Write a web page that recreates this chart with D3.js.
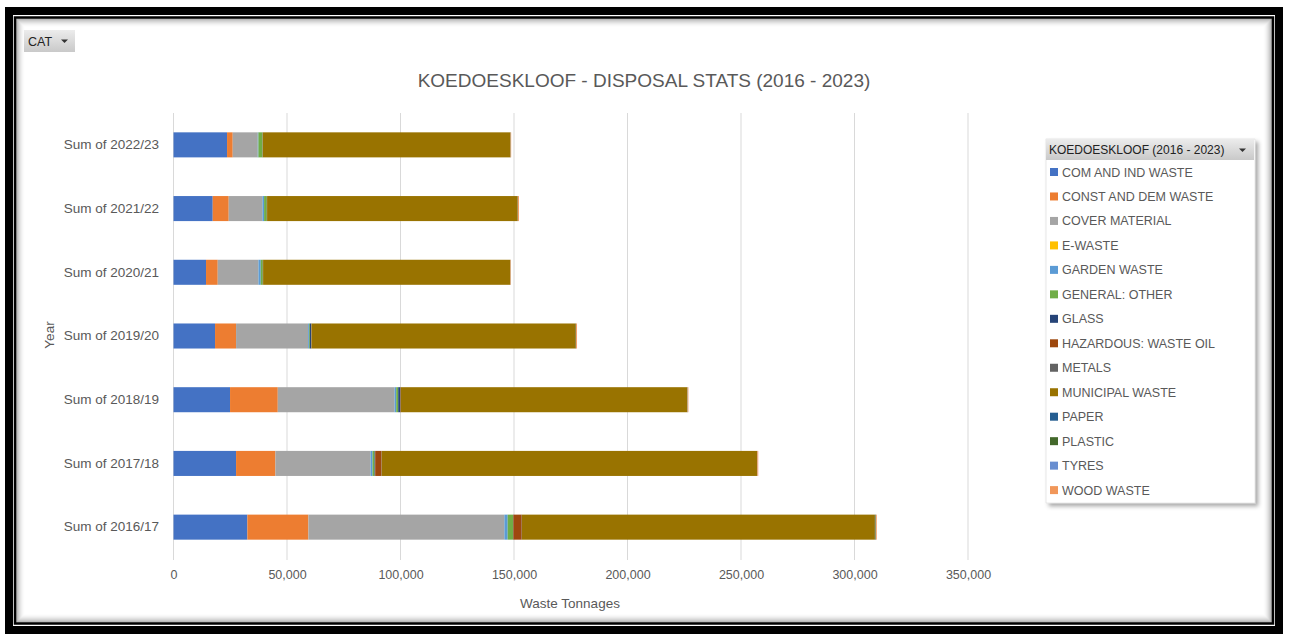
<!DOCTYPE html>
<html>
<head>
<meta charset="utf-8">
<script src="https://cdn.jsdelivr.net/npm/d3@7"></script>
<style>
  body { margin: 0; background: #fff; }
  svg { display: block; font-family: "Liberation Sans", Arial, sans-serif; }
</style>
</head>
<body>
<div id="chart"></div>
<script>
// ---- data ----
const years = ["Sum of 2016/17", "Sum of 2017/18", "Sum of 2018/19", "Sum of 2019/20",
               "Sum of 2020/21", "Sum of 2021/22", "Sum of 2022/23"];
const categories = ["COM AND IND WASTE", "CONST AND DEM WASTE", "COVER MATERIAL", "E-WASTE",
                    "GARDEN WASTE", "GENERAL: OTHER", "GLASS", "HAZARDOUS: WASTE OIL", "METALS",
                    "MUNICIPAL WASTE", "PAPER", "PLASTIC", "TYRES", "WOOD WASTE"];
const colors = ["#4472C4", "#ED7D31", "#A5A5A5", "#FFC000", "#5B9BD5", "#70AD47", "#264478",
                "#9E480E", "#636363", "#997300", "#255E91", "#43682B", "#698ED0", "#F1975A"];

// values per category, one per year (2016/17 ... 2022/23)
const comInd     = [32540, 27560, 24910, 18300, 14330, 17280, 23590];
const constDem   = [26890, 17330, 21030,  9260,  5160,  7050,  2500];
const cover      = [86290, 41880, 51410, 31740, 17900, 14820, 11000];
const eWaste     = [   30,    30,    30,    20,    20,    20,    20];
const garden     = [ 1470,   880,   730,   400,  1030,   735,   300];
const general    = [ 2350,   880,   880,   350,   880,  1175,  1800];
const glass      = [  150,   300,   880,   590,    50,    50,    50];
const hazardous  = [ 3670,  2790,   200,   100,    50,    50,    50];
const metals     = [  100,   100,   100,    50,    50,    50,    50];
const municipal  = [155500, 165300, 126200, 116400, 108900, 110400, 109100];
const paper      = [   50,    50,    50,    50,    30,    30,    30];
const plastic    = [  300,    50,    50,    50,    30,    30,    30];
const tyres      = [   50,    50,    50,    50,    30,    30,    30];
const wood       = [  400,   400,   300,   400,   200,   440,   200];

const series = [comInd, constDem, cover, eWaste, garden, general, glass, hazardous, metals,
                municipal, paper, plastic, tyres, wood];

const xTicks = [0, 50000, 100000, 150000, 200000, 250000, 300000, 350000];

// ---- layout ----
const W = 1294, H = 637;
const svg = d3.select("#chart").append("svg").attr("width", W).attr("height", H);
const defs = svg.append("defs");

const btnGrad = defs.append("linearGradient").attr("id", "btn").attr("x1", 0).attr("y1", 0).attr("x2", 0).attr("y2", 1);
btnGrad.append("stop").attr("offset", "0%").attr("stop-color", "#ececec");
btnGrad.append("stop").attr("offset", "100%").attr("stop-color", "#c9c9c9");

const shadow = defs.append("filter").attr("id", "shadow").attr("x", "-5%").attr("y", "-5%").attr("width", "115%").attr("height", "115%");
shadow.append("feDropShadow").attr("dx", 3).attr("dy", 3).attr("stdDeviation", 2).attr("flood-color", "#000").attr("flood-opacity", 0.35);

// frame
svg.append("rect").attr("x", 9).attr("y", 11).attr("width", 1270).attr("height", 619)
  .attr("fill", "none").attr("stroke", "#000").attr("stroke-width", 8);
svg.append("rect").attr("x", 15).attr("y", 17.5).attr("width", 1258).attr("height", 606)
  .attr("fill", "#fff").attr("stroke", "#000").attr("stroke-width", 2.5);
// inner shadow
for (let i = 0; i < 9; i++) {
  svg.append("rect")
    .attr("x", 16.5 + i).attr("y", 19 + i)
    .attr("width", 1255 - 2 * i).attr("height", 603 - 2 * i)
    .attr("fill", "none")
    .attr("stroke", "#000")
    .attr("stroke-opacity", 0.32 * (1 - i / 9) * (1 - i / 9))
    .attr("stroke-width", 1);
}

// CAT button
const btn = svg.append("g").attr("transform", "translate(24,30)");
btn.append("rect").attr("width", 51).attr("height", 22).attr("fill", "url(#btn)");
btn.append("text").attr("x", 4).attr("y", 16).attr("font-size", 12.5).attr("fill", "#222").text("CAT");
btn.append("path").attr("d", "M37,9.5 L44,9.5 L40.5,13 Z").attr("fill", "#333");

// title
svg.append("text").attr("x", 644).attr("y", 87).attr("text-anchor", "middle")
  .attr("font-size", 19).attr("fill", "#595959")
  .text("KOEDOESKLOOF - DISPOSAL STATS (2016 - 2023)");

// scales
const x = d3.scaleLinear().domain([0, 350000]).range([173.5, 968]);
const y = d3.scaleBand().domain(years.slice().reverse()).range([113, 559])
  .paddingInner(0.607).paddingOuter(0.3035);

// gridlines
svg.append("g").selectAll("line").data(xTicks).join("line")
  .attr("x1", d => x(d)).attr("x2", d => x(d))
  .attr("y1", 113).attr("y2", 560)
  .attr("stroke", "#d9d9d9").attr("stroke-width", 1);

// stacked bars
const rows = years.map((yr, i) => {
  const r = { year: yr };
  categories.forEach((c, j) => r[c] = series[j][i]);
  return r;
});
const stacked = d3.stack().keys(categories)(rows);

svg.append("g").selectAll("g").data(stacked).join("g")
  .attr("fill", (d, i) => colors[i])
  .selectAll("rect").data(d => d).join("rect")
  .attr("x", d => x(d[0]))
  .attr("width", d => Math.max(0, x(d[1]) - x(d[0])))
  .attr("y", d => y(d.data.year))
  .attr("height", y.bandwidth());

// y axis labels
const yAxis = svg.append("g").attr("transform", "translate(159,0)")
  .call(d3.axisLeft(y).tickSize(0).tickPadding(0));
yAxis.select(".domain").remove();
yAxis.selectAll("text").attr("font-size", 13.5).attr("fill", "#595959")
  .attr("font-family", "Liberation Sans, Arial, sans-serif");

// x axis labels
const xAxis = svg.append("g").attr("transform", "translate(0,570)")
  .call(d3.axisBottom(x).tickValues(xTicks).tickSize(0).tickPadding(0).tickFormat(d3.format(",")));
xAxis.select(".domain").remove();
xAxis.selectAll("text").attr("font-size", 12.5).attr("fill", "#595959")
  .attr("font-family", "Liberation Sans, Arial, sans-serif");

svg.append("text").attr("x", 570).attr("y", 608).attr("text-anchor", "middle")
  .attr("font-size", 13.5).attr("fill", "#595959").text("Waste Tonnages");

svg.append("text").attr("transform", "translate(54,335) rotate(-90)").attr("text-anchor", "middle")
  .attr("font-size", 13.5).attr("fill", "#595959").text("Year");

// legend
const lg = svg.append("g").attr("transform", "translate(1046,139)");
lg.append("rect").attr("width", 209).attr("height", 364).attr("fill", "#fff")
  .attr("stroke", "#d0d0d0").attr("stroke-width", 0.5).attr("filter", "url(#shadow)");
lg.append("rect").attr("width", 208).attr("height", 21).attr("fill", "url(#btn)");
lg.append("text").attr("x", 3).attr("y", 15).attr("font-size", 12).attr("fill", "#222")
  .text("KOEDOESKLOOF (2016 - 2023)");
lg.append("path").attr("d", "M193,9.5 L200,9.5 L196.5,13 Z").attr("fill", "#333");

const item = lg.selectAll("g.item").data(categories).join("g").attr("class", "item")
  .attr("transform", (d, i) => `translate(4,${33 + i * 24.47})`);
item.append("rect").attr("x", 0).attr("y", -4).attr("width", 8).attr("height", 8)
  .attr("fill", (d, i) => colors[i]);
item.append("text").attr("x", 12).attr("y", 4.5).attr("font-size", 12.5).attr("fill", "#595959")
  .text(d => d);
</script>
</body>
</html>
